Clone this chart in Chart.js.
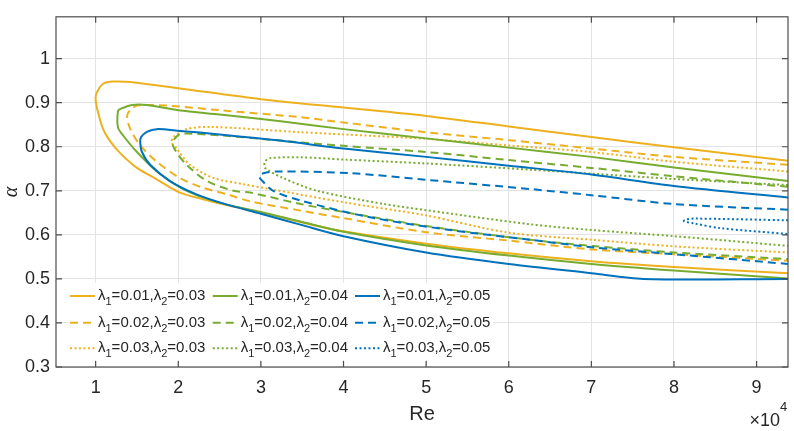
<!DOCTYPE html>
<html>
<head>
<meta charset="utf-8">
<script src="https://cdn.jsdelivr.net/npm/chart.js@4.4.1/dist/chart.umd.min.js"></script>
<style>
  html, body { margin: 0; padding: 0; background: #fff; }
</style>
</head>
<body>
<canvas id="alphacanvas" width="794" height="431"></canvas>
<script>
// Re is in units of 1e4 (axis shows x10^4)
// orange: lambda2 = 0.03
let reA1 = [9.38, 8, 7, 6, 5, 4, 3, 2, 1.42, 1.22, 1.09, 1.01, 1.0, 1.03, 1.09, 1.17, 1.3, 1.5, 1.74, 2.02, 2.3, 2.6, 3, 3.5, 4, 5, 6, 7, 8, 9.38];
let alA1 = [0.768, 0.799, 0.822, 0.846, 0.870, 0.889, 0.908, 0.933, 0.947, 0.948, 0.943, 0.921, 0.906, 0.877, 0.840, 0.814, 0.785, 0.752, 0.726, 0.696, 0.681, 0.667, 0.651, 0.628, 0.608, 0.580, 0.558, 0.540, 0.527, 0.513];
let reA2 = [9.38, 8, 7, 6, 5, 4, 3.48, 2.5, 1.9, 1.52, 1.42, 1.38, 1.42, 1.54, 1.74, 2.02, 2.3, 2.63, 2.87, 3.48, 4, 5, 6, 7, 8, 9.38];
let alA2 = [0.759, 0.777, 0.796, 0.815, 0.833, 0.855, 0.867, 0.883, 0.893, 0.894, 0.884, 0.869, 0.840, 0.803, 0.766, 0.729, 0.707, 0.690, 0.676, 0.655, 0.638, 0.606, 0.587, 0.567, 0.556, 0.541];
let reA3 = [9.38, 8, 7, 6, 5, 4, 3.48, 2.39, 2.1, 1.94, 1.92, 1.98, 2.14, 2.43, 2.79, 3.11, 4, 5, 6, 7, 8, 9.38];
let alA3 = [0.744, 0.766, 0.788, 0.803, 0.818, 0.828, 0.833, 0.845, 0.840, 0.821, 0.810, 0.796, 0.759, 0.729, 0.715, 0.704, 0.674, 0.644, 0.605, 0.589, 0.574, 0.560];
// green: lambda2 = 0.04
let reB1 = [9.38, 8, 7, 6, 5, 4, 3.24, 2.5, 2, 1.62, 1.44, 1.3, 1.27, 1.27, 1.335, 1.5, 1.74, 2.02, 2.3, 2.6, 3, 3.5, 4, 5, 6, 7, 8, 9.38];
let alB1 = [0.722, 0.753, 0.777, 0.798, 0.819, 0.840, 0.858, 0.873, 0.883, 0.895, 0.895, 0.886, 0.881, 0.844, 0.825, 0.788, 0.744, 0.708, 0.685, 0.668, 0.652, 0.629, 0.607, 0.576, 0.553, 0.534, 0.519, 0.501];
let reB2 = [9.38, 8, 7, 6, 5, 4, 3.48, 2.5, 2.1, 2.02, 1.93, 1.97, 2.1, 2.35, 2.67, 2.87, 3.48, 4, 5, 6.26, 7, 8, 9.38];
let alB2 = [0.709, 0.733, 0.752, 0.770, 0.788, 0.802, 0.810, 0.826, 0.830, 0.829, 0.810, 0.790, 0.759, 0.722, 0.700, 0.696, 0.670, 0.652, 0.620, 0.589, 0.575, 0.560, 0.545];
let reB3 = [9.38, 8, 7, 6.26, 5, 4, 3.48, 3.11, 3.05, 3.05, 3.27, 3.68, 4.49, 5, 6.26, 7, 8, 9.38];
let alB3 = [0.713, 0.727, 0.739, 0.748, 0.762, 0.771, 0.776, 0.774, 0.766, 0.752, 0.729, 0.700, 0.670, 0.656, 0.624, 0.611, 0.597, 0.575];
// blue: lambda2 = 0.05
let reC1 = [9.38, 8, 7, 6, 5, 4, 3.23, 2.5, 2.02, 1.74, 1.62, 1.55, 1.54, 1.56, 1.66, 1.9, 2.22, 2.6, 3, 3.5, 4, 5, 6, 7, 7.63, 9.38];
let alC1 = [0.685, 0.711, 0.737, 0.757, 0.777, 0.796, 0.814, 0.828, 0.836, 0.840, 0.834, 0.822, 0.808, 0.788, 0.759, 0.722, 0.692, 0.668, 0.648, 0.622, 0.597, 0.560, 0.534, 0.513, 0.500, 0.500];
let reC2 = [9.38, 8, 7, 6.26, 5, 4.08, 3.23, 3.03, 2.98, 3.0, 3.15, 3.48, 4.29, 5.29, 6.26, 7, 8, 9.38];
let alC2 = [0.657, 0.670, 0.690, 0.704, 0.725, 0.740, 0.744, 0.740, 0.733, 0.726, 0.700, 0.678, 0.641, 0.611, 0.589, 0.572, 0.556, 0.534];
let reC3 = [9.38, 8.24, 8.15, 8.12, 8.24, 8.57, 9.38];
let alC3 = [0.633, 0.637, 0.635, 0.631, 0.626, 0.615, 0.602];

let lambda1List = ['0.01', '0.02', '0.03'];
let lambda2List = ['0.03', '0.04', '0.05'];
let xTicks = [1, 2, 3, 4, 5, 6, 7, 8, 9];
let xTickLabels = ['1', '2', '3', '4', '5', '6', '7', '8', '9'];
let yTicks = [0.3, 0.4, 0.5, 0.6, 0.7, 0.8, 0.9, 1.0];
let yTickLabels = ['0.3', '0.4', '0.5', '0.6', '0.7', '0.8', '0.9', '1'];

let curveRe = [[reA1, reA2, reA3], [reB1, reB2, reB3], [reC1, reC2, reC3]];
let curveAlpha = [[alA1, alA2, alA3], [alB1, alB2, alB3], [alC1, alC2, alC3]];
let seriesColors = ['#EDB120', '#77AC30', '#0072BD'];
let dashList = [[], [8, 5], [2, 2.5]];
let fontName = "'Liberation Sans', Arial, sans-serif";
let textColor = '#262626';

let datasets = [];
for (let c = 0; c < 3; c++) {
    for (let r = 0; r < 3; r++) {
        let re = curveRe[c][r];
        let al = curveAlpha[c][r];
        datasets.push({
            label: 'λ1=' + lambda1List[r] + ',λ2=' + lambda2List[c],
            data: re.map(function(x, i) { return { x: x, y: al[i] }; }),
            borderColor: seriesColors[c],
            borderDash: dashList[r],
            borderWidth: 2,
            showLine: true,
            pointRadius: 0,
            tension: 0.3,
            fill: false,
            order: 9 - datasets.length,
            l1: lambda1List[r],
            l2: lambda2List[c]
        });
    }
}

// legend text with lambda + subscript
function drawLegendText(ctx, x, y, l1, l2) {
    let parts = [['λ', 0], ['1', 1], ['=' + l1 + ',', 0], ['λ', 0], ['2', 1], ['=' + l2, 0]];
    ctx.textBaseline = 'middle';
    ctx.textAlign = 'left';
    parts.forEach(function(p) {
        if (p[1] == 1) {
            ctx.font = '11px ' + fontName;
            ctx.fillText(p[0], x, y + 6);
        } else {
            ctx.font = '15px ' + fontName;
            ctx.fillText(p[0], x, y);
        }
        x += ctx.measureText(p[0]).width;
    });
}

let legendPlugin = {
    id: 'inLegend',
    afterDatasetsDraw(chart) {
        let ctx = chart.ctx;
        let colX = [70, 212.7, 355];
        let rowY = [296, 322.7, 348.3];
        ctx.save();
        ctx.fillStyle = '#ffffff';
        ctx.fillRect(68, 283, 425, 77);
        chart.data.datasets.forEach(function(ds, i) {
            let c = Math.floor(i / 3), r = i % 3;
            let x0 = colX[c], y0 = rowY[r];
            ctx.strokeStyle = ds.borderColor;
            ctx.lineWidth = 2;
            ctx.setLineDash(ds.borderDash);
            ctx.beginPath();
            ctx.moveTo(x0, y0);
            ctx.lineTo(x0 + 25, y0);
            ctx.stroke();
            ctx.setLineDash([]);
            ctx.fillStyle = textColor;
            drawLegendText(ctx, x0 + 28, y0, ds.l1, ds.l2);
        });
        ctx.restore();
    }
};

// matlab style box, inward ticks and the x10^4 note
let boxPlugin = {
    id: 'boxTicks',
    afterDraw(chart) {
        let ctx = chart.ctx;
        let a = chart.chartArea;
        let xs = chart.scales.x, ys = chart.scales.y;
        ctx.save();
        ctx.strokeStyle = '#4d4d4d';
        ctx.lineWidth = 1.2;
        ctx.beginPath();
        xTicks.forEach(function(v) {
            let px = xs.getPixelForValue(v);
            ctx.moveTo(px, a.bottom); ctx.lineTo(px, a.bottom - 6);
            ctx.moveTo(px, a.top); ctx.lineTo(px, a.top + 6);
        });
        yTicks.forEach(function(v) {
            let py = ys.getPixelForValue(v);
            ctx.moveTo(a.left, py); ctx.lineTo(a.left + 6, py);
            ctx.moveTo(a.right, py); ctx.lineTo(a.right - 6, py);
        });
        ctx.stroke();
        ctx.strokeRect(a.left, a.top, a.right - a.left, a.bottom - a.top);

        ctx.fillStyle = textColor;
        ctx.textBaseline = 'alphabetic';
        ctx.textAlign = 'right';
        ctx.font = '18px ' + fontName;
        ctx.fillText('×10', a.right - 8, 426);
        ctx.textAlign = 'left';
        ctx.font = '13px ' + fontName;
        ctx.fillText('4', a.right - 8, 411);
        ctx.restore();
    }
};

let Canvas = document.getElementById('alphacanvas').getContext('2d');
let contourChart = new Chart(Canvas, {
    type: 'scatter',
    data: { datasets: datasets },
    options: {
        responsive: false,
        devicePixelRatio: 1,
        animation: false,
        layout: { padding: { top: 8, right: 6, left: 0, bottom: 0 } },
        plugins: {
            legend: { display: false },
            tooltip: { enabled: false }
        },
        scales: {
            x: {
                type: 'linear',
                min: 0.52,
                max: 9.38,
                afterBuildTicks: function(s) { s.ticks = xTicks.map(function(v) { return { value: v }; }); },
                afterFit: function(s) { s.height = 64; },
                grid: { color: '#e3e3e3', drawTicks: false },
                border: { display: false },
                ticks: {
                    padding: 10,
                    color: textColor,
                    font: { family: fontName, size: 18 },
                    maxRotation: 0,
                    autoSkip: false,
                    callback: function(v) { return xTickLabels[xTicks.indexOf(v)]; }
                },
                title: {
                    display: true,
                    text: 'Re',
                    color: textColor,
                    font: { family: fontName, size: 20 },
                    padding: { top: 0, bottom: 5 }
                }
            },
            y: {
                type: 'linear',
                min: 0.3,
                max: 1.095,
                afterBuildTicks: function(s) { s.ticks = yTicks.map(function(v) { return { value: v }; }); },
                afterFit: function(s) { s.width = 56; },
                grid: { color: '#e3e3e3', drawTicks: false },
                border: { display: false },
                ticks: {
                    padding: 6,
                    color: textColor,
                    font: { family: fontName, size: 18 },
                    autoSkip: false,
                    callback: function(v) { return yTickLabels[yTicks.indexOf(v)]; }
                },
                title: {
                    display: true,
                    text: 'α',
                    color: textColor,
                    font: { family: "'Liberation Serif', serif", size: 20, style: 'italic' },
                    padding: { top: 0, bottom: 0 }
                }
            }
        }
    },
    plugins: [legendPlugin, boxPlugin]
});
</script>
</body>
</html>
